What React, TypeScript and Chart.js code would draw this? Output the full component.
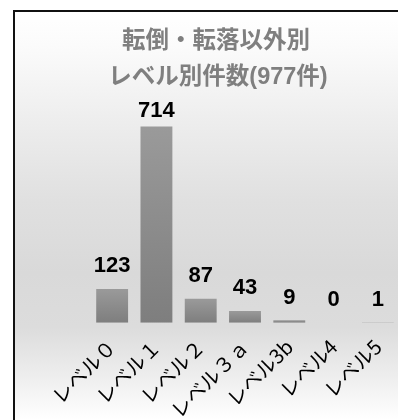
import React, { useEffect, useRef } from 'react';
import { Chart, registerables } from 'chart.js';

Chart.register(...registerables);

const categories = ['レベル０', 'レベル１', 'レベル２', 'レベル３ａ', 'レベル3b', 'レベル4', 'レベル5'];
const counts = [123, 714, 87, 43, 9, 0, 1];
const titleLines = ['転倒・転落以外別', 'レベル別件数(977件)'];
const yMax = 800;

export default function App() {
  const ref = useRef<HTMLCanvasElement>(null);

  useEffect(() => {
    const canvas = ref.current!;

    const valueLabels = {
      id: 'valueLabels',
      afterDatasetsDraw(chart: any) {
        const ctx = chart.ctx;
        const meta = chart.getDatasetMeta(0);
        const area = chart.chartArea;
        ctx.save();
        ctx.fillStyle = '#000';
        ctx.font = 'bold 22px "Liberation Sans", Arial, sans-serif';
        ctx.textAlign = 'center';
        ctx.textBaseline = 'alphabetic';
        meta.data.forEach((bar: any, i: number) => {
          const p = bar.getProps(['x', 'y'], true);
          const baseline = Math.max(p.y - 16.5, area.top + 14);
          ctx.fillText(String(counts[i]), p.x, baseline);
        });
        ctx.restore();
      },
    };

    const titlePlugin = {
      id: 'titleText',
      afterDraw(chart: any) {
        const ctx = chart.ctx;
        ctx.save();
        ctx.fillStyle = '#7f7f7f';
        ctx.font = 'bold 23.5px "Liberation Sans", "Noto Sans CJK JP", sans-serif';
        ctx.textAlign = 'center';
        ctx.textBaseline = 'middle';
        ctx.fillText(titleLines[0], 216, 41.5);
        ctx.fillText(titleLines[1], 218, 78);
        ctx.restore();
      },
    };

    const chart = new Chart(canvas, {
      type: 'bar',
      data: {
        labels: categories,
        datasets: [
          {
            data: counts,
            backgroundColor: (c: any) => {
              const ch = c.chart;
              if (!ch.chartArea || c.type !== 'data') return '#8c8c8c';
              const y = ch.scales.y;
              const top = y.getPixelForValue(c.raw);
              const base = y.getPixelForValue(0);
              if (base - top < 1) return '#8a8a8a';
              const g = ch.ctx.createLinearGradient(0, top, 0, base);
              g.addColorStop(0, '#9a9a9a');
              g.addColorStop(1, '#7e7e7e');
              return g;
            },
            borderWidth: 0,
            barPercentage: 0.72,
            categoryPercentage: 1,
          },
        ],
      },
      options: {
        responsive: false,
        animation: false,
        devicePixelRatio: 1,
        layout: { padding: { left: 90, right: 2, top: 103, bottom: 0 } },
        plugins: {
          legend: { display: false },
          tooltip: { enabled: false },
          title: { display: false },
        },
        scales: {
          x: {
            grid: { display: false },
            border: { display: false },
            ticks: {
              minRotation: 45,
              maxRotation: 45,
              color: '#000',
              padding: 4,
              font: { size: 20, weight: 'normal', family: '"Noto Sans CJK JP", sans-serif' },
            },
            afterFit(scale: any) {
              scale.height = 97.3;
            },
          },
          y: { display: false, min: 0, max: yMax },
        },
      },
      plugins: [valueLabels, titlePlugin],
    });

    return () => chart.destroy();
  }, []);

  return (
    <div style={{ position: 'fixed', left: 0, top: 0, width: 398, height: 420, overflow: 'hidden', background: '#fff' }}>
      <div
        style={{
          position: 'absolute',
          left: 13,
          top: 10,
          width: 400,
          height: 420,
          borderLeft: '2px solid #111',
          borderTop: '2px solid #111',
          background:
            'linear-gradient(to bottom, #ffffff 0%, #fbfbfb 8%, #eeeeee 25%, #e0e0e0 45%, #d9d9d9 62%, #dcdcdc 75%, #eeeeee 87%, #ffffff 97%)',
        }}
      />
      <canvas ref={ref} width={402} height={420} style={{ position: 'absolute', left: 0, top: 0 }} />
    </div>
  );
}
